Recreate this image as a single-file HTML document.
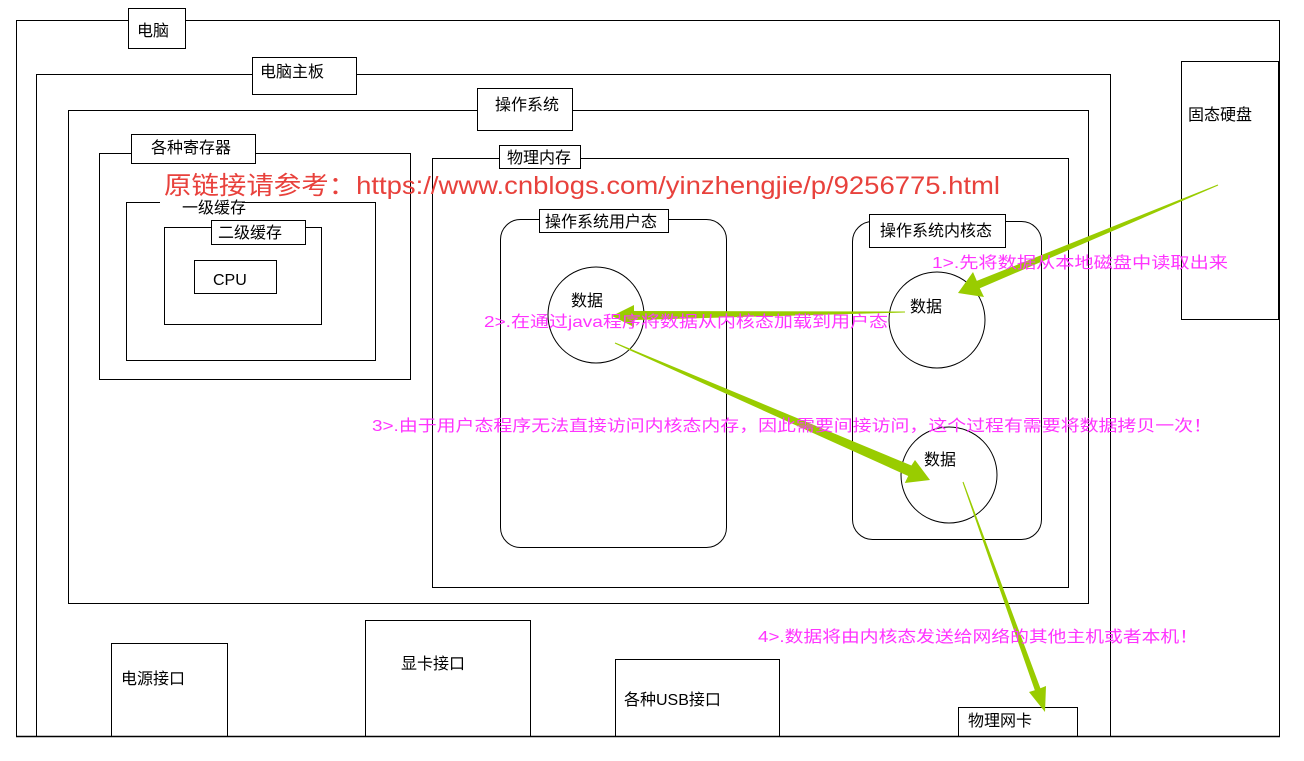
<!DOCTYPE html>
<html><head><meta charset="utf-8"><style>
body{margin:0;background:#fff;width:1304px;height:756px;overflow:hidden}
svg text{font-family:"Liberation Sans","Noto Sans CJK SC",sans-serif}
</style></head><body>
<svg width="1304" height="756" viewBox="0 0 1304 756" xmlns="http://www.w3.org/2000/svg">
<g fill="#fff" stroke="#000" stroke-width="1">
<rect x="16.5" y="20.5" width="1263" height="716"/>
<rect x="36.5" y="74.5" width="1074" height="670"/>
<rect x="68.5" y="110.5" width="1020" height="493"/>
<rect x="99.5" y="153.5" width="311" height="226"/>
<rect x="126.5" y="202.5" width="249" height="158"/>
<rect x="164.5" y="227.5" width="157" height="97"/>
<rect x="194.5" y="260.5" width="82" height="33"/>
<rect x="432.5" y="158.5" width="636" height="429"/>
<rect x="500.5" y="219.5" width="226" height="328" rx="20"/>
<rect x="852.5" y="221.5" width="189" height="318" rx="20"/>
<circle cx="596" cy="315" r="48"/>
<circle cx="937" cy="320" r="48"/>
<circle cx="949" cy="475" r="48"/>
<rect x="1181.5" y="61.5" width="97" height="258"/>
<rect x="111.5" y="643.5" width="116" height="100"/>
<rect x="365.5" y="620.5" width="165" height="120"/>
<rect x="615.5" y="659.5" width="164" height="90"/>
<rect x="958.5" y="707.5" width="119" height="40"/>
<rect x="128.5" y="8.5" width="57" height="40"/>
<rect x="252.5" y="57.5" width="104" height="37"/>
<rect x="477.5" y="88.5" width="95" height="42"/>
<rect x="131.5" y="134.5" width="124" height="29"/>
<rect x="211.5" y="220.5" width="94" height="24"/>
<rect x="499.5" y="145.5" width="81" height="23"/>
<rect x="539.5" y="209.5" width="129" height="23"/>
<rect x="869.5" y="214.5" width="136" height="33"/>
</g>
<rect x="0" y="737" width="1304" height="19" fill="#fff"/>
<line x1="16" y1="736.5" x2="1280" y2="736.5" stroke="#000" stroke-width="1.5"/>
<rect x="160" y="200" width="82" height="8" fill="#fff"/>
<g font-size="16" fill="#000">
<text x="137" y="36">电脑</text>
<text x="260" y="77">电脑主板</text>
<text x="495" y="110">操作系统</text>
<text x="151" y="153">各种寄存器</text>
<text x="182" y="213">一级缓存</text>
<text x="218" y="238">二级缓存</text>
<text x="213" y="285">CPU</text>
<text x="507" y="163">物理内存</text>
<text x="545" y="227">操作系统用户态</text>
<text x="880" y="236">操作系统内核态</text>
<text x="571" y="306">数据</text>
<text x="910" y="312">数据</text>
<text x="924" y="465">数据</text>
<text x="1188" y="120">固态硬盘</text>
<text x="121" y="684">电源接口</text>
<text x="401" y="669">显卡接口</text>
<text x="624" y="705">各种USB接口</text>
<text x="968" y="726">物理网卡</text>
</g>
<text x="164" y="194" font-size="25" fill="#e8413c" textLength="836" lengthAdjust="spacingAndGlyphs">原链接请参考：https://www.cnblogs.com/yinzhengjie/p/9256775.html</text>
<g fill="#99cc00">
<polygon points="1218.2,185.5 979.8,288.3 984,297 958,293 973,272 976.8,280.9 1217.8,184.5"/>
<polygon points="905,312.5 634,320 634,327 612,316 634,305 634,311 905,311.5"/>
<polygon points="614.8,343.5 908.2,476 904.8,483 930,480 915,460 911.4,465.5 615.2,342.5"/>
<polygon points="962.5,482.2 1034.8,690.3 1029,692 1045,712 1046,686 1040.4,688.3 963.5,481.8"/>
</g>
<g font-size="16" fill="#ff33ff">
<text x="932" y="268" textLength="296" lengthAdjust="spacingAndGlyphs">1&gt;.先将数据从本地磁盘中读取出来</text>
<text x="484" y="327" textLength="404" lengthAdjust="spacingAndGlyphs">2&gt;.在通过java程序将数据从内核态加载到用户态</text>
<text x="372" y="431" textLength="840" lengthAdjust="spacingAndGlyphs">3&gt;.由于用户态程序无法直接访问内核态内存，因此需要间接访问，这个过程有需要将数据拷贝一次！</text>
<text x="758" y="642" textLength="440" lengthAdjust="spacingAndGlyphs">4&gt;.数据将由内核态发送给网络的其他主机或者本机！</text>
</g>
</svg>
</body></html>
